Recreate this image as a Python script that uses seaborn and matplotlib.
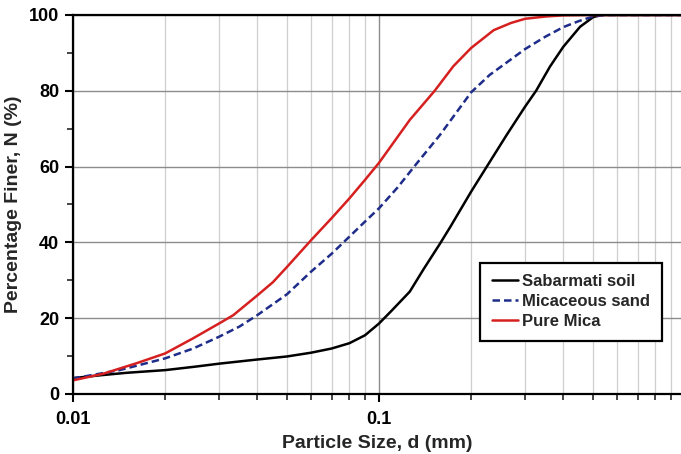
import matplotlib
matplotlib.use("Agg")
import matplotlib.pyplot as plt
import matplotlib.ticker as mticker
import seaborn as sns
import pandas as pd

# ── Data ─────────────────────────────────────────────────────────────────────
size_sabarmati = [0.01, 0.0125, 0.015, 0.02, 0.025, 0.03, 0.04, 0.05, 0.06, 0.07,
                  0.08, 0.09, 0.1, 0.11, 0.126, 0.14, 0.158, 0.171, 0.2, 0.225,
                  0.261, 0.3, 0.326, 0.362, 0.4, 0.454, 0.5, 0.53, 1.0]
finer_sabarmati = [4.2, 5.0, 5.6, 6.3, 7.2, 8.0, 9.1, 9.9, 10.9, 12.0,
                   13.4, 15.5, 18.6, 22.0, 27.0, 33.0, 39.6, 44.1, 53.4, 60.0,
                   68.3, 75.8, 80.0, 86.4, 91.6, 96.9, 99.4, 100, 100]

size_micaceous = [0.01, 0.0142, 0.02, 0.0247, 0.03, 0.035, 0.04, 0.05, 0.06, 0.07,
                  0.08, 0.09, 0.1, 0.115, 0.133, 0.158, 0.2, 0.23, 0.3, 0.35,
                  0.4, 0.45, 0.5, 0.55, 1.0]
finer_micaceous = [4.1, 6.3, 9.4, 12.0, 15.1, 17.8, 20.8, 26.3, 32.3, 37.0,
                   41.5, 45.5, 49.0, 54.5, 60.9, 68.3, 79.6, 84.2, 91.0, 94.3,
                   96.8, 98.4, 99.6, 100, 100]

size_mica = [0.01, 0.0125, 0.0161, 0.02, 0.0247, 0.03, 0.0334, 0.04, 0.045, 0.05,
             0.06, 0.07, 0.08, 0.09, 0.1, 0.126, 0.152, 0.175, 0.2, 0.237,
             0.27, 0.3, 0.35, 0.4, 0.5, 1.0]
finer_mica = [3.6, 5.3, 8.1, 10.7, 14.7, 18.6, 20.8, 26.0, 29.5, 33.5,
              40.6, 46.4, 51.6, 56.5, 61.0, 72.3, 80.0, 86.5, 91.3, 96.0,
              97.9, 99.0, 99.6, 99.9, 100, 100]

series = ["Sabarmati soil", "Micaceous sand", "Pure Mica"]

df = pd.concat([
    pd.DataFrame({"d": size_sabarmati, "N": finer_sabarmati, "soil": series[0]}),
    pd.DataFrame({"d": size_micaceous, "N": finer_micaceous, "soil": series[1]}),
    pd.DataFrame({"d": size_mica, "N": finer_mica, "soil": series[2]}),
])

# ── Style ────────────────────────────────────────────────────────────────────
sns.set_style("white")
plt.rcParams["font.family"] = ["Liberation Sans", "DejaVu Sans"]
plt.rcParams["font.weight"] = "bold"

fig = plt.figure(figsize=(6.81, 4.54), dpi=100)
ax = fig.add_axes([73 / 681, 60 / 454, 1 - 73 / 681, 379 / 454])

palette = {series[0]: "black", series[1]: "#1f2d8a", series[2]: "#d62020"}
dashes = {series[0]: "", series[1]: (3, 1.6), series[2]: ""}

sns.lineplot(data=df, x="d", y="N", hue="soil", style="soil",
             palette=palette, dashes=dashes, linewidth=1.8,
             estimator=None, sort=False, ax=ax)

ax.set_xscale("log")
ax.set_xlim(0.01, 0.97)
ax.set_ylim(0, 100)

# ticks and grid
ax.xaxis.set_major_locator(mticker.LogLocator(base=10))
ax.xaxis.set_minor_locator(mticker.LogLocator(base=10, subs=range(2, 10)))
ax.xaxis.set_minor_formatter(mticker.NullFormatter())
ax.xaxis.set_major_formatter(mticker.FuncFormatter(lambda v, _: f"{v:g}"))
ax.yaxis.set_major_locator(mticker.MultipleLocator(20))
ax.yaxis.set_minor_locator(mticker.MultipleLocator(10))

ax.grid(which="major", color="#8c8c8c", linewidth=1.0)
ax.grid(which="minor", axis="x", color="#cfcfcf", linewidth=0.9)
ax.set_axisbelow(True)

ax.tick_params(which="major", direction="out", length=6, width=1.5,
               labelsize=13, colors="black", left=True, bottom=True, pad=4)
ax.tick_params(axis="x", which="major", pad=6)
ax.tick_params(which="minor", direction="out", length=4, width=1.2,
               left=True, bottom=True)
for lab in ax.get_xticklabels() + ax.get_yticklabels():
    lab.set_fontweight("bold")

for side in ["left", "bottom", "top"]:
    ax.spines[side].set_color("black")
    ax.spines[side].set_linewidth(1.6)
ax.spines["right"].set_visible(False)

ax.set_xlabel("Particle Size, d (mm)", fontsize=14, fontweight="bold", labelpad=5)
ax.set_ylabel("Percentage Finer, N (%)", fontsize=14, fontweight="bold", labelpad=5)

leg = ax.legend(loc="lower right", bbox_to_anchor=(0.969, 0.14),
                frameon=True, fancybox=False, edgecolor="black",
                handlelength=1.6, handletextpad=0.25, borderpad=0.7,
                labelspacing=0.3, borderaxespad=0.0,
                prop={"weight": "bold", "size": 12})
leg.get_frame().set_linewidth(1.6)
leg.get_frame().set_facecolor("white")
leg.get_frame().set_alpha(1)

fig.savefig("out.png", dpi=100)
